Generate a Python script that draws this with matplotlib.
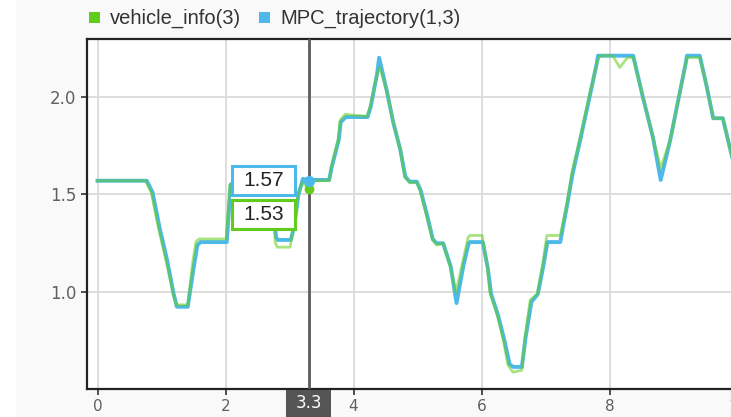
import matplotlib
matplotlib.use("Agg")
import matplotlib.pyplot as plt
from matplotlib.patches import Rectangle

# vehicle_info(3): heading signal (time, value)
veh_t = [0.00, 0.75, 0.84, 0.95, 1.07, 1.18, 1.23, 1.41, 1.49, 1.54, 1.59, 2.01,
         2.07, 2.15, 2.70, 2.78, 2.81, 3.01, 3.06, 3.13, 3.20, 3.30, 3.38, 3.62,
         3.65, 3.76, 3.79, 3.87, 4.21, 4.26, 4.37, 4.41, 4.52, 4.62, 4.73, 4.80,
         4.88, 4.99, 5.04, 5.15, 5.23, 5.30, 5.40, 5.51, 5.60, 5.71, 5.79, 5.82,
         6.01, 6.09, 6.13, 6.24, 6.34, 6.41, 6.49, 6.63, 6.68, 6.76, 6.87, 6.96,
         7.02, 7.23, 7.34, 7.41, 7.54, 7.66, 7.80, 7.85, 8.05, 8.16, 8.28, 8.37,
         8.52, 8.68, 8.80, 8.95, 9.06, 9.21, 9.41, 9.52, 9.62, 9.77, 9.88, 10.05]
veh_v = [1.57, 1.57, 1.51, 1.33, 1.16, 0.995, 0.935, 0.935, 1.16, 1.26, 1.272, 1.272,
         1.55, 1.56, 1.56, 1.25, 1.23, 1.23, 1.33, 1.50, 1.56, 1.53, 1.57, 1.57,
         1.64, 1.78, 1.88, 1.91, 1.90, 1.95, 2.12, 2.15, 2.03, 1.87, 1.73, 1.59,
         1.56, 1.56, 1.52, 1.38, 1.27, 1.24, 1.25, 1.13, 1.00, 1.16, 1.28, 1.29,
         1.29, 1.13, 1.00, 0.89, 0.755, 0.63, 0.59, 0.60, 0.77, 0.96, 0.99, 1.15,
         1.29, 1.29, 1.46, 1.61, 1.79, 1.97, 2.17, 2.21, 2.21, 2.15, 2.20, 2.20,
         2.00, 1.79, 1.635, 1.78, 1.96, 2.20, 2.20, 2.05, 1.89, 1.89, 1.74, 1.50]

# MPC_trajectory(1,3): planned heading (time, value)
mpc_t = [0.00, 0.77, 0.86, 0.97, 1.09, 1.19, 1.24, 1.41, 1.51, 1.56, 1.61, 2.02,
         2.08, 2.15, 2.72, 2.79, 2.82, 3.02, 3.07, 3.14, 3.21, 3.30, 3.38, 3.62,
         3.66, 3.77, 3.80, 3.88, 4.22, 4.27, 4.37, 4.40, 4.52, 4.62, 4.73, 4.81,
         4.88, 4.99, 5.05, 5.16, 5.24, 5.30, 5.40, 5.52, 5.61, 5.72, 5.80, 5.82,
         6.02, 6.10, 6.15, 6.26, 6.36, 6.44, 6.50, 6.63, 6.69, 6.78, 6.88, 6.97,
         7.03, 7.23, 7.34, 7.42, 7.55, 7.67, 7.80, 7.82, 8.37, 8.52, 8.68, 8.80,
         8.95, 9.06, 9.19, 9.21, 9.41, 9.52, 9.62, 9.77, 9.88, 10.05]
mpc_v = [1.57, 1.57, 1.51, 1.33, 1.16, 0.99, 0.925, 0.925, 1.14, 1.24, 1.256, 1.256,
         1.55, 1.57, 1.57, 1.28, 1.267, 1.267, 1.33, 1.50, 1.58, 1.57, 1.574, 1.574,
         1.64, 1.78, 1.87, 1.896, 1.896, 1.95, 2.12, 2.20, 2.03, 1.87, 1.73, 1.59,
         1.565, 1.565, 1.52, 1.38, 1.27, 1.25, 1.25, 1.13, 0.944, 1.14, 1.25, 1.256,
         1.256, 1.12, 0.99, 0.88, 0.75, 0.63, 0.617, 0.617, 0.77, 0.95, 0.99, 1.14,
         1.256, 1.256, 1.45, 1.60, 1.79, 1.97, 2.17, 2.21, 2.21, 2.00, 1.79, 1.574,
         1.78, 1.96, 2.17, 2.21, 2.21, 2.05, 1.89, 1.89, 1.74, 1.50]

cursor_t = 3.3
cursor_veh = 1.53
cursor_mpc = 1.57

x_ticks = [0, 2, 4, 6, 8, 10]
y_ticks = [1.0, 1.5, 2.0]

GREEN = "#62cc1c"
BLUE = "#4db9ea"

W, H = 731, 417
fig = plt.figure(figsize=(W / 100, H / 100), dpi=100, facecolor="#f9f9f9")
fig.patches.append(Rectangle((0, 0), 16 / W, 1, transform=fig.transFigure,
                             facecolor="white", edgecolor="none", zorder=0))

ax_l, ax_r, ax_t, ax_b = 86.5, 745, 39.3, 389
ax = fig.add_axes([ax_l / W, 1 - ax_b / H, (ax_r - ax_l) / W, (ax_b - ax_t) / H])
ax.set_facecolor("white")
ax.set_xlim(-0.172, 10.117)
ax.set_ylim(0.504, 2.294)
ax.set_xticks(x_ticks)
ax.set_yticks(y_ticks)
ax.set_xticklabels([str(t) for t in x_ticks])
ax.set_yticklabels([f"{t:.1f}" for t in y_ticks])
ax.grid(True, color="#dadada", linewidth=1.3)
ax.set_axisbelow(True)
for side in ("left", "top", "bottom"):
    ax.spines[side].set_color("#222222")
    ax.spines[side].set_linewidth(1.6)
ax.spines["right"].set_visible(False)
ax.tick_params(axis="both", direction="out", length=4, width=1.2, color="#333333",
               labelcolor="#606060")
ax.tick_params(axis="y", labelsize=12)
ax.tick_params(axis="x", labelsize=11, pad=3)

ax.plot(mpc_t, mpc_v, color=BLUE, linewidth=2.8, solid_joinstyle="round", zorder=3)
ax.plot(veh_t, veh_v, color=GREEN, linewidth=2.0, alpha=0.55,
        solid_joinstyle="round", zorder=4)

# cursor line and its time label
ax.axvline(cursor_t, color="#5c5c5c", linewidth=2, zorder=5)
ax.plot([cursor_t], [cursor_veh], "o", color=GREEN, markersize=6, zorder=7)
ax.plot([cursor_t], [cursor_mpc], "o", color=BLUE, markersize=7, zorder=7)

fig.canvas.draw()
inv = fig.transFigure.inverted()


def to_fig(px, py_img):
    return inv.transform((px, H - py_img))


cx, cy_mpc = ax.transData.transform((cursor_t, cursor_mpc))
cy_mpc = H - cy_mpc
box_w, box_h, gap = 63, 29, 5
bx0 = cx - 77
by_top = cy_mpc - box_h / 2

# white backdrop behind the value readouts
x0, y0 = to_fig(bx0 - 1, by_top + 2 * box_h + gap + 1)
x1, y1 = to_fig(bx0 + box_w + 1, by_top - 1)
fig.patches.append(Rectangle((x0, y0), x1 - x0, y1 - y0, transform=fig.transFigure,
                             facecolor="white", edgecolor="none", zorder=7))
for i, (val, col) in enumerate([(cursor_mpc, BLUE), (cursor_veh, GREEN)]):
    top = by_top + i * (box_h + gap)
    x0, y0 = to_fig(bx0, top + box_h)
    x1, y1 = to_fig(bx0 + box_w, top)
    fig.patches.append(Rectangle((x0, y0), x1 - x0, y1 - y0, transform=fig.transFigure,
                                 facecolor="white", edgecolor=col, linewidth=2.2, zorder=8))
    tx, ty = to_fig(bx0 + box_w / 2, top + box_h / 2)
    fig.text(tx, ty, f"{val:.2f}", ha="center", va="center", fontsize=15,
             family="Liberation Sans", color="#222222", zorder=9)

lx0, ly0 = to_fig(cx - 23, H + 2)
lx1, ly1 = to_fig(cx + 22, ax_b + 1)
fig.patches.append(Rectangle((lx0, ly0), lx1 - lx0, ly1 - ly0, transform=fig.transFigure,
                             facecolor="#555555", edgecolor="none", zorder=8))
tx, ty = to_fig(cx, 403)
fig.text(tx, ty, f"{cursor_t:.1f}", ha="center", va="center", fontsize=12,
         color="white", zorder=9)

# legend row
for sx, label, col in [(89, "vehicle_info(3)", GREEN), (259, "MPC_trajectory(1,3)", BLUE)]:
    x0, y0 = to_fig(sx, 23)
    x1, y1 = to_fig(sx + 11, 12)
    fig.patches.append(Rectangle((x0, y0), x1 - x0, y1 - y0, transform=fig.transFigure,
                                 facecolor=col, edgecolor="none"))
    tx, ty = to_fig(sx + 21, 18)
    fig.text(tx, ty, label, ha="left", va="center", fontsize=14.5,
             family="Liberation Sans", color="#333333")

fig.savefig("out.png", dpi=100, facecolor=fig.get_facecolor())
